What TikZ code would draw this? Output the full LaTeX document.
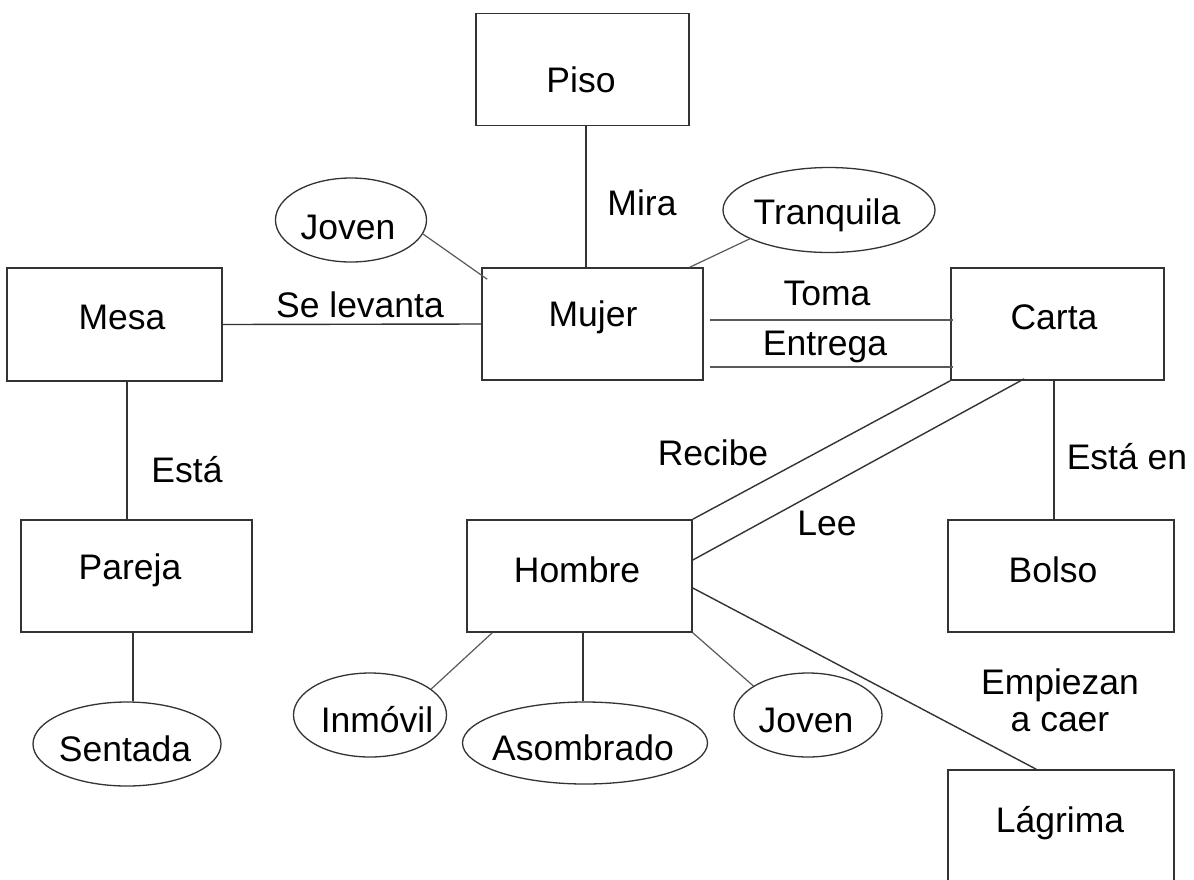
\documentclass[tikz,border=0pt]{standalone}
\usepackage{fontspec}
\setmainfont{Liberation Sans}
\usetikzlibrary{shapes.geometric}
\tikzset{
  txt/.style={font=\fontsize{35.5}{37}\selectfont, inner sep=0pt, text=black},
  box/.style={draw=black!80, line width=1.6pt, rectangle, minimum height=112, inner sep=0pt},
  attr/.style={draw=black!80, line width=1.3pt, ellipse, inner sep=0pt},
  conn/.style={draw=black!80, line width=1.4pt},
  thinconn/.style={draw=black!65, line width=1.2pt}
}
\begin{document}
\begin{tikzpicture}[x=1pt, y=-1pt]
\useasboundingbox (0,0) rectangle (1194,879);
\clip (0,0) rectangle (1194,879);
\fill[white] (0,0) rectangle (1194,879);

% boxes
\node[box, minimum width=213, label={[txt,xshift=-1.5pt,yshift=-10.5pt]center:Piso}] (piso) at (582.5,69.5) {};
\node[box, minimum width=215, minimum height=113, label={[txt,xshift=7.5pt,yshift=7.5pt]center:Mesa}] (mesa) at (114.5,324.5) {};
\node[box, minimum width=221, label={[txt,xshift=0.5pt,yshift=7pt]center:Mujer}] (mujer) at (592.5,324) {};
\node[box, minimum width=213, label={[txt,xshift=-3.5pt,yshift=7pt]center:Carta}] (carta) at (1057.5,324) {};
\node[box, minimum width=231, label={[txt,xshift=-6.5pt,yshift=6pt]center:Pareja}] (pareja) at (136.5,576) {};
\node[box, minimum width=225, label={[txt,xshift=-2.5pt,yshift=6pt]center:Hombre}] (hombre) at (579.5,576) {};
\node[box, minimum width=226, label={[txt,xshift=-8pt,yshift=6pt]center:Bolso}] (bolso) at (1061,576) {};
\node[box, minimum width=226, label={[txt,xshift=-1pt,yshift=3pt]center:Lágrima}] (lagrima) at (1061,826) {};

% attribute ellipses
\node[attr, minimum width=151, minimum height=84, label={[txt,xshift=-3pt,yshift=-7pt]center:Joven}] (joven1) at (351,220) {};
\node[attr, minimum width=212, minimum height=85, label={[txt,xshift=-2pt,yshift=-5pt]center:Tranquila}] (tranq) at (829,210) {};
\node[attr, minimum width=188, minimum height=84, label={[txt,xshift=-2pt,yshift=-5pt]center:Sentada}] (sentada) at (127,744) {};
\node[attr, minimum width=153, minimum height=84, label={[txt,xshift=7pt,yshift=-5pt]center:Inmóvil}] (inmovil) at (370,715) {};
\node[attr, minimum width=245, minimum height=82, label={[txt,xshift=-2pt,yshift=-5pt]center:Asombrado}] (asom) at (585,743) {};
\node[attr, minimum width=148, minimum height=84, label={[txt,xshift=-2pt,yshift=-5pt]center:Joven}] (joven2) at (808,715) {};

% relation labels
\node[txt] (lmira) at (642,203) {Mira};
\node[txt] (llev) at (360,305) {Se levanta};
\node[txt] (ltoma) at (827,293) {Toma};
\node[txt] (lentrega) at (825,347) {Entrega};
\node[txt] (lrecibe) at (713,453) {Recibe};
\node[txt] (llee) at (827,523) {Lee};
\node[txt] (lestaen) at (1127,457) {Está en};
\node[txt] (lesta) at (187,470) {Está};
\node[txt, align=center] (lcaer) at (1060,700) {Empiezan\\a caer};

% connectors
\draw[conn] ([shift={(3.5,0)}]piso.south) -- ([shift={(-6.5,0)}]mujer.north);
\draw[thinconn] (joven1.-11) -- ([shift={(6,12)}]mujer.north west);
\draw[thinconn] (tranq.200) -- ([shift={(-14,0)}]mujer.north east);
\draw[conn] (mesa.east) -- (mujer.west);
\draw[thinconn] ([shift={(6,-4)}]mujer.east) -- ([shift={(3,-4)}]carta.west);
\draw[thinconn] ([shift={(6,43)}]mujer.east) -- ([shift={(3,43)}]carta.west);
\draw[conn] (carta.south west) -- (hombre.north east);
\draw[conn] ([shift={(74,-2)}]carta.south west) -- ([shift={(0,-16)}]hombre.east);
\draw[conn] ([shift={(-3.5,0)}]carta.south) -- ([shift={(-7,0)}]bolso.north);
\draw[conn] ([shift={(12.5,0)}]mesa.south) -- ([shift={(-9.5,0)}]pareja.north);
\draw[conn] ([shift={(-3.5,0)}]pareja.south) -- ([shift={(6,0)}]sentada.north);
\draw[thinconn] (inmovil.23) -- ([shift={(26,0)}]hombre.south west);
\draw[conn] ([shift={(3.5,0)}]hombre.south) -- ([shift={(-2,0)}]asom.north);
\draw[thinconn] (hombre.south east) -- (joven2.152);
\draw[conn] ([shift={(0,12)}]hombre.east) -- ([shift={(89,0)}]lagrima.north west);
\end{tikzpicture}
\end{document}
